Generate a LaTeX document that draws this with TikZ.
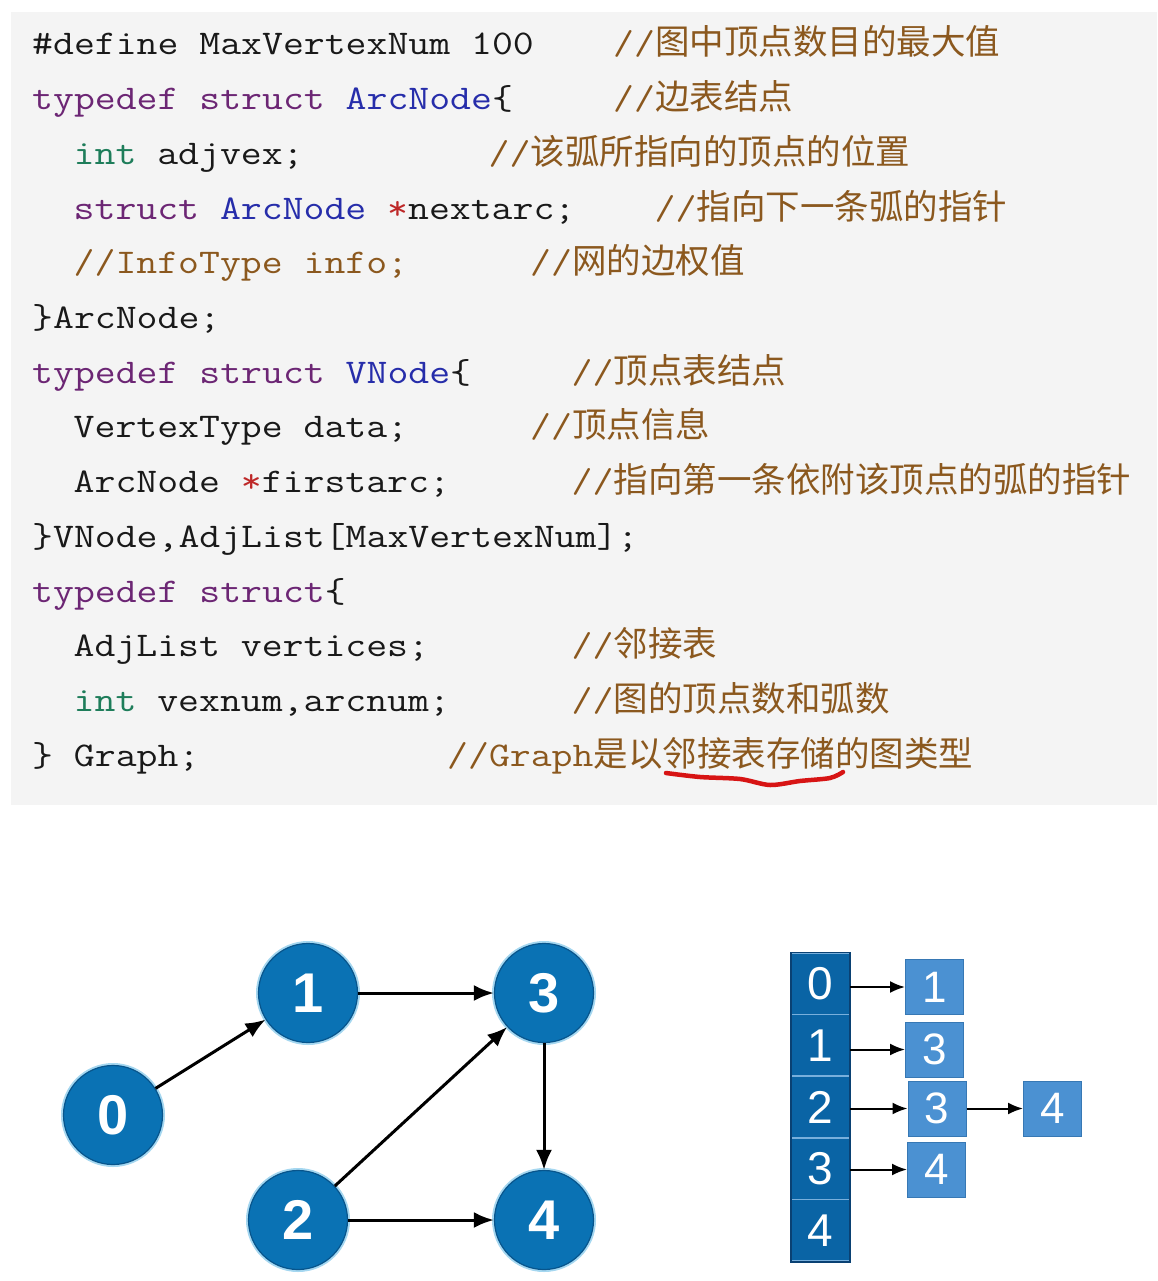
\documentclass[tikz,border=0pt]{standalone}
\usepackage{fontspec}
\usepackage{graphicx}
\setmainfont{Liberation Sans}
\newfontfamily\cjkfont{Noto Sans CJK SC}
\usetikzlibrary{arrows.meta}
\definecolor{codebg}{RGB}{244,244,244}
\definecolor{plain}{RGB}{25,25,25}
\definecolor{cmt}{RGB}{139,88,30}
\definecolor{kw}{RGB}{108,38,116}
\definecolor{ty}{RGB}{38,45,170}
\definecolor{intc}{RGB}{30,125,90}
\definecolor{star}{RGB}{190,40,40}
\definecolor{gfill}{RGB}{10,114,180}
\definecolor{gborder}{RGB}{8,85,140}
\definecolor{gglow}{RGB}{165,215,240}
\definecolor{vfill}{RGB}{10,100,165}
\definecolor{vdiv}{RGB}{120,175,220}
\definecolor{vborder}{RGB}{10,65,115}
\definecolor{afill}{RGB}{75,145,210}
\definecolor{aborder}{RGB}{55,120,180}
\definecolor{underl}{RGB}{215,20,20}
\newcommand\zhtext[1]{{\cjkfont\fontsize{34.5}{40}\selectfont #1}}
\newcommand\cd[1]{\scalebox{1.173}[1]{#1}}
\newcommand\cw{20.75}
\begin{document}
\begin{tikzpicture}[x=1pt,y=-1pt,
  code/.style={anchor=base west, inner sep=0pt, text=plain,
    font=\ttfamily\fontsize{34.6}{40}\selectfont},
  cmtx/.style={code, text=cmt},
  gnode/.style={circle, minimum size=99pt, inner sep=0pt, fill=gfill,
    draw=gborder, line width=1.2pt, text=white,
    preaction={draw=gglow, line width=5pt},
    font=\bfseries\fontsize{56}{60}\selectfont},
  garrow/.style={-{Latex[length=20pt,width=16pt]}, line width=3pt, black},
  larrow/.style={-{Latex[length=15pt,width=12pt]}, line width=2pt, black},
  vcell/.style={rectangle, minimum width=57.6pt, minimum height=61.6pt,
    inner sep=0pt, fill=vfill, draw=vdiv, line width=1.5pt, text=white,
    font=\fontsize{46}{50}\selectfont},
  acell/.style={rectangle, minimum width=58pt, minimum height=55pt,
    inner sep=0pt, fill=afill, draw=aborder, line width=1pt, text=white,
    font=\fontsize{44}{48}\selectfont},
  ulstyle/.style={draw=underl, line width=4.5pt, line cap=round}
]
\useasboundingbox (0,0) rectangle (1157,1281);
\fill[codebg] (11,12) rectangle (1157,805);

% code lines
\node[code] (l1) at (32,55) {\cd{\#define MaxVertexNum 100}};
\node[cmtx] (c1) at ({32+28*\cw},55) {\cd{//}\zhtext{图中顶点数目的最大值}};
\node[code] (l2) at (32,109.7) {\cd{\textcolor{kw}{typedef} \textcolor{kw}{struct} \textcolor{ty}{ArcNode}\{}};
\node[cmtx] (c2) at ({32+28*\cw},109.7) {\cd{//}\zhtext{边表结点}};
\node[code] (l3) at ({32+2*\cw},164.4) {\cd{\textcolor{intc}{int} adjvex;}};
\node[cmtx] (c3) at ({32+22*\cw},164.4) {\cd{//}\zhtext{该弧所指向的顶点的位置}};
\node[code] (l4) at ({32+2*\cw},219.1) {\cd{\textcolor{kw}{struct} \textcolor{ty}{ArcNode} \textcolor{star}{*}nextarc;}};
\node[cmtx] (c4) at ({32+30*\cw},219.1) {\cd{//}\zhtext{指向下一条弧的指针}};
\node[cmtx] (l5) at ({32+2*\cw},273.8) {\cd{//InfoType info;}};
\node[cmtx] (c5) at ({32+24*\cw},273.8) {\cd{//}\zhtext{网的边权值}};
\node[code] (l6) at (32,328.5) {\cd{\}ArcNode;}};
\node[code] (l7) at (32,383.2) {\cd{\textcolor{kw}{typedef} \textcolor{kw}{struct} \textcolor{ty}{VNode}\{}};
\node[cmtx] (c7) at ({32+26*\cw},383.2) {\cd{//}\zhtext{顶点表结点}};
\node[code] (l8) at ({32+2*\cw},437.9) {\cd{VertexType data;}};
\node[cmtx] (c8) at ({32+24*\cw},437.9) {\cd{//}\zhtext{顶点信息}};
\node[code] (l9) at ({32+2*\cw},492.6) {\cd{ArcNode \textcolor{star}{*}firstarc;}};
\node[cmtx] (c9) at ({32+26*\cw},492.6) {\cd{//}\zhtext{指向第一条依附该顶点的弧的指针}};
\node[code] (l10) at (32,547.3) {\cd{\}VNode,AdjList[MaxVertexNum];}};
\node[code] (l11) at (32,602) {\cd{\textcolor{kw}{typedef} \textcolor{kw}{struct}\{}};
\node[code] (l12) at ({32+2*\cw},656.7) {\cd{AdjList vertices;}};
\node[cmtx] (c12) at ({32+26*\cw},656.7) {\cd{//}\zhtext{邻接表}};
\node[code] (l13) at ({32+2*\cw},711.4) {\cd{\textcolor{intc}{int} vexnum,arcnum;}};
\node[cmtx] (c13) at ({32+26*\cw},711.4) {\cd{//}\zhtext{图的顶点数和弧数}};
\node[code] (l14) at (32,766.1) {\cd{\} Graph;}};
\node[cmtx] (c14) at ({32+20*\cw},766.1) {\cd{//Graph}\zhtext{是以邻接表存储的图类型}};

% red underline
\draw[ulstyle] plot[smooth] coordinates {(666,773) (700,777) (740,779) (770,785) (800,781) (830,778) (843,772)};

% graph
\node[gnode] (n0) at (113,1115) {0};
\node[gnode] (n1) at (308,993) {1};
\node[gnode] (n3) at (544,993) {3};
\node[gnode] (n2) at (298,1220) {2};
\node[gnode] (n4) at (544,1220) {4};
\draw[garrow] (n0) -- (n1);
\draw[garrow] (n1) -- (n3);
\draw[garrow] (n2) -- (n3);
\draw[garrow] (n2) -- (n4);
\draw[garrow] (n3) -- (n4);

% adjacency list
\node[vcell] (v0) at (820.5,983.8) {0};
\node[vcell] (v1) at (820.5,1045.4) {1};
\node[vcell] (v2) at (820.5,1107) {2};
\node[vcell] (v3) at (820.5,1168.6) {3};
\node[vcell] (v4) at (820.5,1230.2) {4};
\draw[vborder, line width=1.5pt] (v0.north west) rectangle (v4.south east);

\node[acell] (a0) at (934.5,987) {1};
\node[acell] (a1) at (934.5,1049.5) {3};
\node[acell] (a2) at (937,1108.5) {3};
\node[acell] (a2b) at (1052.5,1108.5) {4};
\node[acell] (a3) at (936.5,1169.5) {4};

\draw[larrow] (v0.east |- a0) -- (a0.west);
\draw[larrow] (v1.east |- a1) -- (a1.west);
\draw[larrow] (v2.east |- a2) -- (a2.west);
\draw[larrow] (a2) -- (a2b);
\draw[larrow] (v3.east |- a3) -- (a3.west);
\end{tikzpicture}
\end{document}
